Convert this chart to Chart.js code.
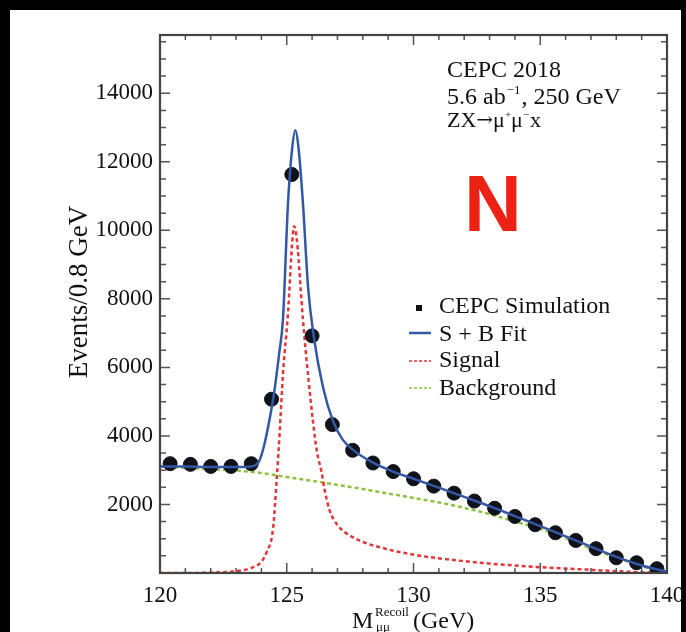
<!DOCTYPE html>
<html>
<head>
<meta charset="utf-8">
<script src="https://cdn.jsdelivr.net/npm/chart.js@4.4.1/dist/chart.umd.min.js"></script>
<style>
  html, body { margin: 0; padding: 0; background: #000; }
  #wrap { width: 686px; height: 632px; }
</style>
</head>
<body>
<div id="wrap"><canvas id="recoil" width="686" height="632"></canvas></div>
<script>
// --- data ---
const simMass = [120.4, 121.2, 122.0, 122.8, 123.6, 124.4, 125.2, 126.0, 126.8, 127.6, 128.4, 129.2, 130.0,
                 130.8, 131.6, 132.4, 133.2, 134.0, 134.8, 135.6, 136.4, 137.2, 138.0, 138.8, 139.6];
const simEvents = [3190, 3170, 3110, 3110, 3190, 5070, 11630, 6920, 4330, 3580, 3210, 2960, 2750,
                   2535, 2330, 2100, 1890, 1650, 1410, 1175, 950, 710, 445, 300, 125];

const fitMass = [120, 121, 122, 123, 123.6, 123.9, 124.1, 124.3, 124.5, 124.7, 124.85, 125.05, 125.2, 125.34,
                 125.45, 125.64, 125.84, 126.07, 126.43, 126.83, 127.2, 127.6, 128.4, 129.2, 130, 131, 132,
                 133, 134, 135, 136, 137, 138, 139, 140];
const fitEvents = [3110, 3110, 3090, 3090, 3110, 3250, 3700, 4400, 5250, 6400, 7400, 10800, 12300, 12920,
                   12500, 10780, 8350, 6880, 5420, 4420, 3900, 3600, 3220, 2960, 2750, 2490, 2220,
                   1950, 1660, 1370, 1070, 770, 470, 220, 40];

const sigMass = [120, 121, 122, 122.8, 123.2, 123.6, 124.0, 124.2, 124.46, 124.6, 124.72, 124.85, 125.05, 125.2,
                 125.29, 125.4, 125.64, 125.85, 126.03, 126.2, 126.36, 126.5, 126.69, 127.0, 127.6, 128.9,
                 130.2, 131.5, 133.1, 135, 137, 138.9, 140];
const sigEvents = [0, 0, 10, 40, 73, 150, 330, 600, 1300, 2700, 4100, 5800, 7600, 9500,
                   10120, 9700, 7370, 5700, 4450, 3500, 2990, 2400, 1830, 1400, 1045, 706,
                   511, 385, 268, 170, 93, 23, 0];

const bkgMass = [120, 121, 122, 123, 124, 125, 126, 127, 128, 129, 130, 131, 132, 133, 134, 135, 136, 137, 138, 139, 140];
const bkgEvents = [3110, 3070, 3030, 2990, 2920, 2800, 2690, 2570, 2450, 2320, 2190, 2060, 1900, 1720, 1500,
                   1290, 1010, 710, 450, 200, 0];

const xTicks = [120, 125, 130, 135, 140];
const yTicks = [2000, 4000, 6000, 8000, 10000, 12000, 14000];

const legendLabels = ['CEPC Simulation', 'S + B Fit', 'Signal', 'Background'];
const yTitle = 'Events/0.8 GeV';

const SERIF = '"Liberation Serif", "Times New Roman", serif';
const BLUE = '#3457a6';
const RED = '#e2363a';
const GREEN = '#8cc240';

const pts = (xs, ys) => xs.map((x, i) => ({ x: x, y: ys[i] }));

// write a run of [text, size, dy] pieces from left to right
function runText(c, x, y, pieces) {
    pieces.forEach(p => {
        c.font = p[1] + 'px ' + (p[3] || SERIF);
        c.fillText(p[0], x, y + (p[2] || 0));
        x += c.measureText(p[0]).width + (p[4] || 0);
    });
}

// frame with inward ticks on all four sides + page border
const framePlugin = {
    id: 'frame',
    beforeDraw(chart) {
        const c = chart.ctx;
        c.save();
        c.fillStyle = '#000';
        c.fillRect(0, 0, chart.width, chart.height);
        c.fillStyle = '#fff';
        c.fillRect(10, 10, 671, 622);
        c.restore();
    },
    afterDraw(chart) {
        const c = chart.ctx;
        const a = chart.chartArea;
        const xs = chart.scales.x, ys = chart.scales.y;
        c.save();
        c.strokeStyle = '#555';
        c.lineWidth = 1.5;
        c.beginPath();
        for (let v = 120; v <= 140; v += 1) {
            const px = xs.getPixelForValue(v);
            const len = v % 5 === 0 ? 10 : 5;
            c.moveTo(px, a.bottom); c.lineTo(px, a.bottom - len);
            c.moveTo(px, a.top); c.lineTo(px, a.top + len);
        }
        for (let v = 500; v < ys.max; v += 500) {
            const py = ys.getPixelForValue(v);
            const len = v % 2000 === 0 ? 10 : 6;
            c.moveTo(a.left, py); c.lineTo(a.left + len, py);
            c.moveTo(a.right, py); c.lineTo(a.right - len, py);
        }
        c.stroke();
        c.lineWidth = 2.2;
        c.strokeStyle = '#444';
        c.strokeRect(a.left, a.top, a.right - a.left, a.bottom - a.top);

        c.fillStyle = '#111';
        c.textBaseline = 'alphabetic';

        // y axis title
        c.save();
        c.translate(87, 292);
        c.rotate(-Math.PI / 2);
        c.font = '27px ' + SERIF;
        c.textAlign = 'center';
        c.fillText(yTitle, 0, 0);
        c.restore();

        // x axis title with super/subscript
        c.font = '24px ' + SERIF;
        c.fillText('M', 352, 628);
        c.font = '13px ' + SERIF;
        c.fillText('Recoil', 375, 616);
        c.fillText('\u03bc\u03bc', 376, 631);
        c.font = '24px ' + SERIF;
        c.fillText('(GeV)', 413, 628);

        // info text
        runText(c, 447, 77, [['CEPC 2018', 24]]);
        runText(c, 447, 104, [['5.6 ab', 24, 0, null, 1], ['\u22121', 13, -10, null, 1], [', 250 GeV', 24]]);
        runText(c, 447, 127, [['ZX', 22], ['\u2192', 20, -1, '"DejaVu Serif", serif'], ['\u03bc', 22],
                              ['+', 11, -9], ['\u03bc', 22], ['\u2212', 11, -9, null, 1], ['x', 22]]);

        // big red N
        c.fillStyle = '#ee2214';
        c.font = 'bold 80px "Liberation Sans", Arial, sans-serif';
        c.fillText('N', 464, 231);

        // legend
        const lx = 439;
        const rows = [313, 341, 367, 395];
        c.fillStyle = '#111';
        c.font = '24px ' + SERIF;
        legendLabels.forEach((t, i) => c.fillText(t, lx, rows[i]));
        c.fillRect(416, 305, 6, 6);
        c.lineWidth = 2.5;
        c.strokeStyle = BLUE;
        c.beginPath(); c.moveTo(409, 333); c.lineTo(431, 333); c.stroke();
        c.setLineDash([3, 2]);
        c.lineWidth = 1.5;
        c.strokeStyle = RED;
        c.beginPath(); c.moveTo(409, 361); c.lineTo(431, 361); c.stroke();
        c.strokeStyle = GREEN;
        c.beginPath(); c.moveTo(409, 388); c.lineTo(431, 388); c.stroke();
        c.restore();
    }
};

const ctx = document.getElementById('recoil').getContext('2d');
new Chart(ctx, {
    type: 'scatter',
    data: {
        datasets: [
            {
                label: 'S + B Fit',
                data: pts(fitMass, fitEvents),
                showLine: true,
                borderColor: BLUE,
                borderWidth: 2.5,
                pointRadius: 0,
                cubicInterpolationMode: 'monotone',
                order: 1
            },
            {
                label: 'CEPC Simulation',
                data: pts(simMass, simEvents),
                pointRadius: 7,
                pointBackgroundColor: '#10121a',
                pointBorderColor: '#10121a',
                order: 2
            },
            {
                label: 'Signal',
                data: pts(sigMass, sigEvents),
                showLine: true,
                borderColor: RED,
                borderWidth: 2.5,
                borderDash: [4, 3],
                pointRadius: 0,
                cubicInterpolationMode: 'monotone',
                order: 3
            },
            {
                label: 'Background',
                data: pts(bkgMass, bkgEvents),
                showLine: true,
                borderColor: GREEN,
                borderWidth: 2.5,
                borderDash: [4, 3],
                pointRadius: 0,
                cubicInterpolationMode: 'monotone',
                order: 4
            }
        ]
    },
    options: {
        responsive: false,
        animation: false,
        layout: { padding: { left: 0, top: 35, right: 19, bottom: 0 } },
        plugins: { legend: { display: false }, tooltip: { enabled: false } },
        scales: {
            x: {
                type: 'linear',
                min: 120,
                max: 140,
                afterBuildTicks: s => { s.ticks = xTicks.map(v => ({ value: v })); },
                afterFit: s => { s.height = 59; s.paddingLeft = 0; s.paddingRight = 0; },
                grid: { display: false, drawTicks: false },
                border: { display: false },
                ticks: { padding: 9, color: '#111', font: { family: SERIF, size: 23 }, callback: v => String(v) }
            },
            y: {
                type: 'linear',
                min: 0,
                max: 15700,
                afterBuildTicks: s => { s.ticks = yTicks.map(v => ({ value: v })); },
                afterFit: s => { s.width = 160; s.paddingTop = 0; s.paddingBottom = 0; },
                grid: { display: false, drawTicks: false },
                border: { display: false },
                ticks: { padding: 7, color: '#111', font: { family: SERIF, size: 23 }, callback: v => String(v) }
            }
        }
    },
    plugins: [framePlugin]
});
</script>
</body>
</html>
